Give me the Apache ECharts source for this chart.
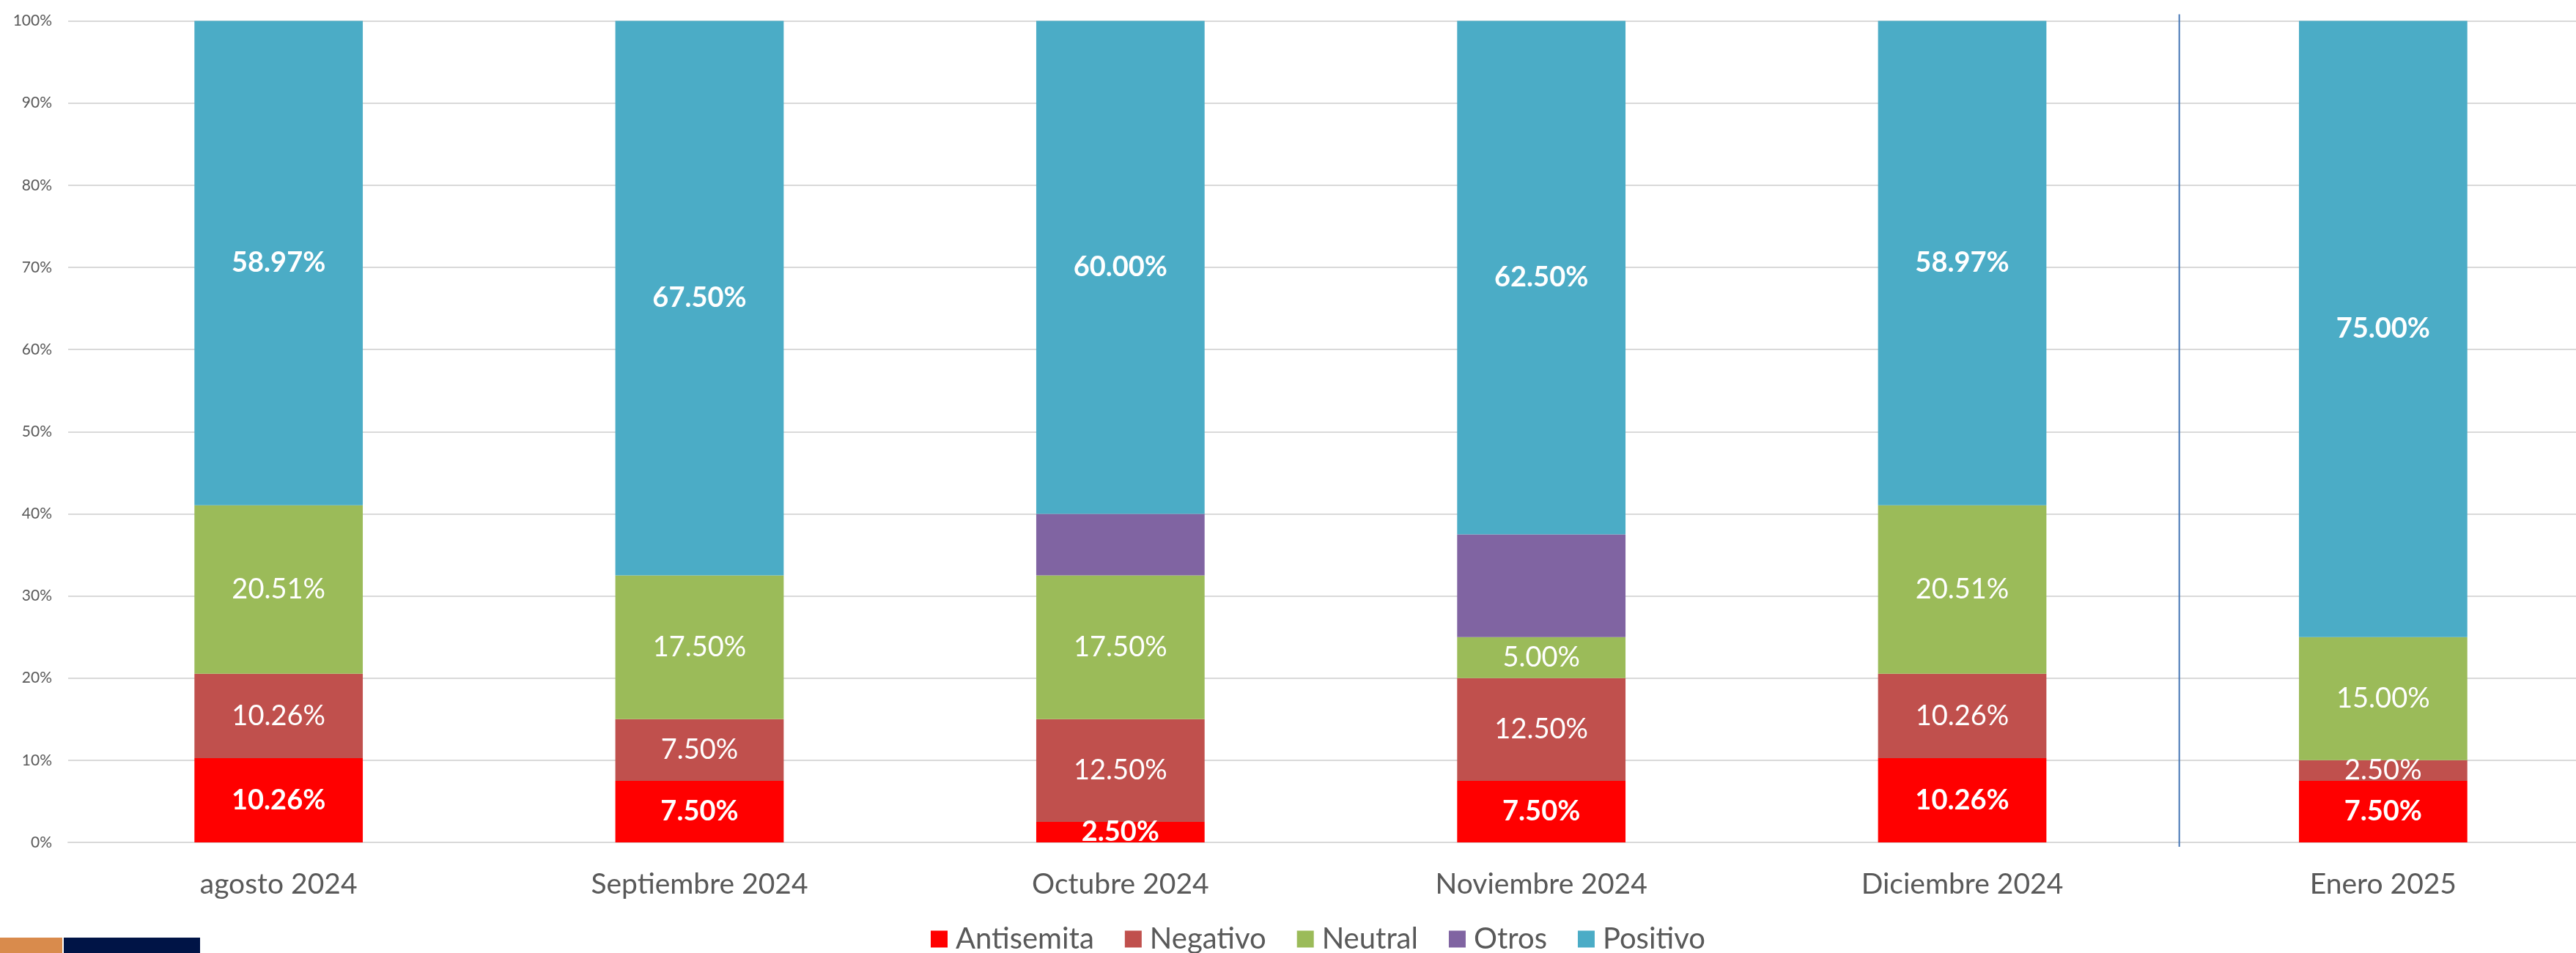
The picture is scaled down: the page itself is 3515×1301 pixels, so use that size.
<!DOCTYPE html>
<html><head><meta charset="utf-8">
<script src="https://cdn.jsdelivr.net/npm/echarts@6/dist/echarts.min.js"></script>
<style>html,body{margin:0;padding:0;background:#fff}#c{width:3515px;height:1301px}</style>
</head><body><div id="c"></div>
<script>
const categories = ['agosto 2024','Septiembre 2024','Octubre 2024','Noviembre 2024','Diciembre 2024','Enero 2025'];
const antisemita = [10.26, 7.5, 2.5, 7.5, 10.26, 7.5];
const negativo   = [10.26, 7.5, 12.5, 12.5, 10.26, 2.5];
const neutral    = [20.51, 17.5, 17.5, 5.0, 20.51, 15.0];
const otros      = [0, 0, 7.5, 12.5, 0, 0];
const positivo   = [58.97, 67.5, 60.0, 62.5, 58.97, 75.0];
const yTicks = [0,10,20,30,40,50,60,70,80,90,100];

const FONT = 'Lato';
const chart = echarts.init(document.getElementById('c'), null, {renderer:'canvas'});

function mk(name, data, color, bold, showLabel) {
  return {
    name, type:'bar', stack:'t', data, barWidth:'40%',
    itemStyle:{color},
    label:{
      show: showLabel, position:'inside', color:'#fff',
      fontFamily: FONT, fontSize: 38, fontWeight: bold ? 'bold' : 'normal',
      formatter: p => p.value > 0 ? p.value.toFixed(2) + '%' : ''
    },
    emphasis:{disabled:true}
  };
}

chart.setOption({
  animation:false,
  grid:{left:93, top:28.5, right:-24, bottom:151, containLabel:false, outerBoundsMode:'none'},
  legend:{
    data:['Antisemita','Negativo','Neutral','Otros','Positivo'],
    left:1265, top:1257, itemWidth:23, itemHeight:23, itemGap:42, icon:'rect',
    textStyle:{fontFamily:FONT, fontSize:40, color:'#595959', padding:[0,0,0,6]}
  },
  xAxis:{
    type:'category', data:categories,
    axisLine:{lineStyle:{color:'#d9d9d9', width:2}},
    axisTick:{show:false},
    axisLabel:{fontFamily:FONT, fontSize:39, color:'#595959', margin:38, lineHeight:39}
  },
  yAxis:{
    type:'value', min:yTicks[0], max:yTicks[yTicks.length-1], interval:10,
    axisLine:{show:false}, axisTick:{show:false},
    splitLine:{lineStyle:{color:'#d9d9d9', width:2}},
    axisLabel:{fontFamily:FONT, fontSize:21, color:'#595959', margin:22, formatter:'{value}%'}
  },
  series:[
    mk('Antisemita', antisemita, '#FF0000', true, true),
    mk('Negativo', negativo, '#C0504D', false, true),
    mk('Neutral', neutral, '#9BBB59', false, true),
    mk('Otros', otros, '#8064A2', false, false),
    mk('Positivo', positivo, '#4BACC6', true, true)
  ]
});

// separator line between the last two categories
const xa = chart.convertToPixel({xAxisIndex:0}, categories[4]);
const xb = chart.convertToPixel({xAxisIndex:0}, categories[5]);
const yTop = chart.convertToPixel({yAxisIndex:0}, 100);
const yBot = chart.convertToPixel({yAxisIndex:0}, 0);
const sx = (xa + xb) / 2 + 9;
chart.setOption({
  graphic:[
    {type:'line', shape:{x1:sx, y1:yTop-9, x2:sx, y2:yBot+6}, style:{stroke:'#4676b5', lineWidth:2}, z:10},
    {type:'rect', shape:{x:0, y:1280, width:85, height:21}, style:{fill:'#d98b4c'}},
    {type:'rect', shape:{x:87, y:1280, width:186, height:21}, style:{fill:'#001446'}}
  ]
});
</script></body></html>
